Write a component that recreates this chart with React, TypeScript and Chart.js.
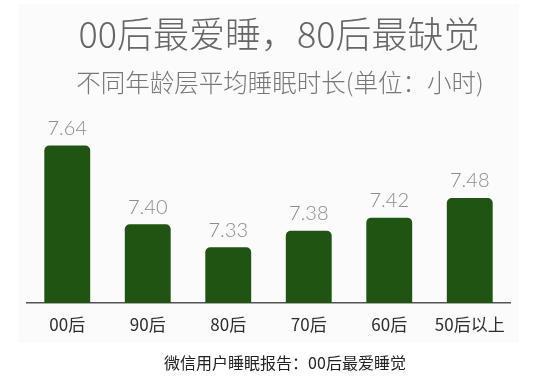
import React, { useEffect, useRef } from "react";
import { Chart, registerables } from "chart.js";

Chart.register(...registerables);

const TITLE = "00后最爱睡，80后最缺觉";
const SUBTITLE = "不同年龄层平均睡眠时长(单位：小时)";
const CAPTION = "微信用户睡眠报告：00后最爱睡觉";
const categories = ["00后", "90后", "80后", "70后", "60后", "50后以上"];
const sleepHours = [7.64, 7.4, 7.33, 7.38, 7.42, 7.48];
const valueLabels = ["7.64", "7.40", "7.33", "7.38", "7.42", "7.48"];

const CJK = '"Noto Sans CJK SC", "Noto Sans", sans-serif';

const valueLabelPlugin = {
  id: "valueLabels",
  afterDatasetsDraw(chart: any) {
    const ctx = chart.ctx;
    const meta = chart.getDatasetMeta(0);
    ctx.save();
    ctx.font = '300 20px "Lato", "Open Sans", "Liberation Sans", sans-serif';
    ctx.fillStyle = "#8c8c8c";
    ctx.textAlign = "center";
    ctx.textBaseline = "bottom";
    meta.data.forEach((bar: any, i: number) => {
      ctx.fillText(valueLabels[i], bar.x, bar.y - 7);
    });
    ctx.restore();
  },
};

export default function App() {
  const ref = useRef<HTMLCanvasElement | null>(null);

  useEffect(() => {
    if (!ref.current) return;
    const chart = new Chart(ref.current, {
      type: "bar",
      data: {
        labels: categories,
        datasets: [
          {
            data: sleepHours,
            backgroundColor: "#1f5412",
            borderRadius: { topLeft: 5, topRight: 5, bottomLeft: 0, bottomRight: 0 },
            borderSkipped: "bottom",
            barPercentage: 0.57,
            categoryPercentage: 1,
          },
        ],
      },
      options: {
        responsive: false,
        animation: false,
        layout: { padding: { left: 27, right: 38, top: 108, bottom: 50 } },
        plugins: {
          legend: { display: false },
          tooltip: { enabled: false },
          title: { display: false },
        },
        scales: {
          x: {
            grid: { display: false, drawTicks: false },
            border: { display: true, color: "#555555", width: 1.5 },
            ticks: {
              padding: 11,
              color: "#2e2e2e",
              font: { family: CJK, size: 17, weight: "normal" },
            },
            afterFit: (s: any) => {
              s.height = 30;
            },
          },
          y: {
            display: false,
            min: 7.16,
            max: 7.754,
          },
        },
      },
      plugins: [valueLabelPlugin],
    });
    return () => chart.destroy();
  }, []);

  return (
    <div
      style={{
        position: "absolute",
        left: 0,
        top: 0,
        width: 548,
        height: 383,
        background: "#ffffff",
        overflow: "hidden",
      }}
    >
      <div
        style={{
          position: "absolute",
          left: 18,
          top: 4,
          width: 501,
          height: 339,
          background: "#fcfbfc",
        }}
      />
      <canvas
        ref={ref}
        width={548}
        height={383}
        style={{ position: "absolute", left: 0, top: 0, width: 548, height: 383 }}
      />
      <div
        style={{
          position: "absolute",
          left: 279,
          top: 14,
          transform: "translateX(-50%)",
          whiteSpace: "nowrap",
          fontFamily: CJK,
          fontSize: 36,
          lineHeight: "36px",
          color: "#666666",
          fontWeight: 300,
        }}
      >
        {TITLE}
      </div>
      <div
        style={{
          position: "absolute",
          left: 280,
          top: 69,
          transform: "translateX(-50%)",
          whiteSpace: "nowrap",
          fontFamily: CJK,
          fontSize: 24.5,
          lineHeight: "25px",
          color: "#777777",
          fontWeight: 300,
        }}
      >
        {SUBTITLE}
      </div>
      <div
        style={{
          position: "absolute",
          left: 285,
          top: 354,
          transform: "translateX(-50%)",
          whiteSpace: "nowrap",
          fontFamily: CJK,
          fontSize: 16,
          lineHeight: "16px",
          color: "#222222",
        }}
      >
        {CAPTION}
      </div>
    </div>
  );
}
